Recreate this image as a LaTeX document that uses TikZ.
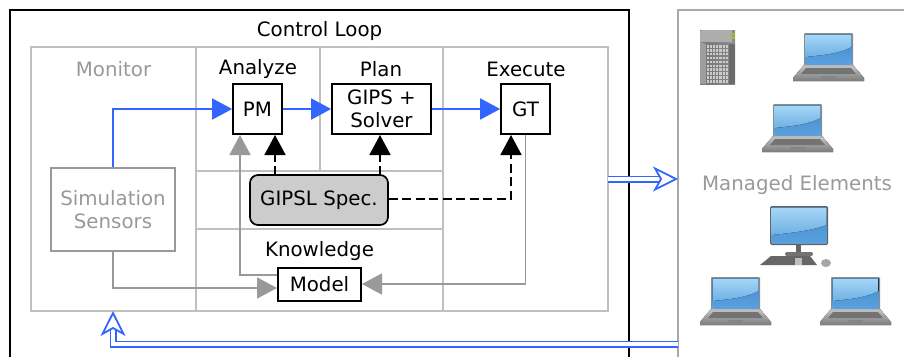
\documentclass[tikz,border=0pt]{standalone}
\usepackage{fontspec}
\setmainfont{DejaVu Sans}
\usetikzlibrary{arrows.meta,calc}
\definecolor{gridc}{HTML}{C0C0C0}
\definecolor{txtg}{HTML}{999999}
\definecolor{linkb}{HTML}{3366FF}
\definecolor{scrtop}{HTML}{A6D6F7}
\definecolor{scrmid}{HTML}{6FB0E4}
\definecolor{scrlow}{HTML}{3F8CD2}
\definecolor{scrbot}{HTML}{5AA0DC}
\tikzset{
  every node/.style={font=\fontsize{19.8}{23.5}\selectfont,align=center,inner sep=0pt},
  cell/.style={draw=gridc,line width=1.7pt},
  frame/.style={line width=1.8pt},
  box/.style={draw=black,fill=white,line width=1.7pt},
  graybox/.style={draw=txtg,fill=white,line width=1.7pt,text=txtg},
  specbox/.style={draw=black,fill=black!20,line width=1.7pt,rounded corners=8pt},
  title/.style={text=black},
  gtitle/.style={text=txtg},
  blink/.style={draw=linkb,line width=1.7pt,-{Triangle[length=20pt,width=21pt,fill=linkb]}},
  glink/.style={draw=txtg,line width=1.8pt,-{Triangle[length=20pt,width=21pt,fill=txtg]}},
  dlink/.style={draw=black,line width=1.7pt,dash pattern=on 9pt off 4.5pt,-{Triangle[length=20pt,width=21pt,fill=black,sep=0pt]}},
  dbl/.style={draw=linkb,line width=1.8pt,double=white,double distance=3.4pt,-{Stealth[length=25pt,width=25pt,inset=7pt,open,fill=white,line width=1.8pt]}},
  pics/laptop/.style={code={
    % base
    \fill[top color=black!22,bottom color=black!52] (0,48) -- (0,45) -- (11,32) -- (60,32) -- (71,45) -- (71,48) -- cycle;
    \fill[black!55] (8,41) -- (13,35) -- (58,35) -- (63,41) -- cycle;
    \fill[black!48] (28,42.5) rectangle (43,46.5);
    % lid
    \fill[black!45,rounded corners=1.2pt] (11,0) rectangle (60,33);
    \fill[black!28] (11.8,31) rectangle (59.2,33);
    \fill[bottom color=scrbot,top color=scrlow] (12.5,1.5) rectangle (58.5,31);
    \fill[top color=scrtop,bottom color=scrmid] (12.5,1.5) -- (58.5,1.5) -- (58.5,14) .. controls (45,21) and (30,22) .. (12.5,24) -- cycle;
  }},
  pics/desktop/.style={code={
    \fill[black!62,rounded corners=1.5pt] (10,0) rectangle (68,39);
    \fill[bottom color=scrbot,top color=scrlow] (11.5,1.5) rectangle (66.5,37);
    \fill[top color=scrtop,bottom color=scrmid] (11.5,1.5) -- (66.5,1.5) -- (66.5,19) .. controls (50,25) and (30,27) .. (11.5,29) -- cycle;
    \fill[black!60] (36,39) rectangle (41,47);
    \fill[black!55,rounded corners=2pt] (25,46) rectangle (53,50);
    \fill[black!60] (0,59) -- (11,50) -- (50,50) -- (57,59) -- cycle;
    \fill[black!25] (35,52) rectangle (42,59);
    \fill[black!35] (66,57) ellipse (5pt and 4pt);
  }},
  pics/server/.style={code={
    \fill[left color=black!55,right color=black!45] (0,0) rectangle (35,54);
    \fill[black!32] (0,1) -- (3,0) -- (32,0) -- (32,12) -- (0,12) -- cycle;
    \fill[black!38] (0,12) -- (6,14) -- (6,54) -- (0,54) -- cycle;
    \fill[black!58] (29,14) rectangle (35,54);
    \fill[yellow!70!green!80!black] (31,2.5) rectangle (35,5);
    \fill[yellow!70!green!80!black] (31,6) rectangle (35,8.5);
    \foreach \i in {0,...,9}{\foreach \j in {0,...,6}{
      \fill[black!20] ({6.5+\j*3.2},{15+\i*3.9}) rectangle ++(2.2,2.6);}}
  }}
}
\begin{document}
\begin{tikzpicture}[x=1pt,y=-1pt]
\useasboundingbox (0,0) rectangle (904,356);
\clip (0,0) rectangle (904,356);
% frames
\draw[frame,draw=black] (10,370) -- (10,10) -- (629,10) -- (629,370);
\draw[frame,draw=txtg!85!white] (678,370) -- (678,10) -- (920,10);
% grid
\draw[cell] (31,47) rectangle (608,311);
\draw[cell] (196,47) -- (196,311);
\draw[cell] (320,47) -- (320,171);
\draw[cell] (443,47) -- (443,311);
\draw[cell] (196,171) -- (443,171);
\draw[cell] (196,229) -- (443,229);
% titles
\node[title] (tcl) at (319.5,31) {Control Loop};
\node[gtitle] (tmon) at (113.5,69) {Monitor};
\node[title] (tana) at (258,69) {Analyze};
\node[title] (tpla) at (381,69) {Plan};
\node[title] (texe) at (526,69) {Execute};
\node[title] (tkno) at (319.5,251) {Knowledge};
\node[gtitle] (tman) at (797,185.5) {Managed Elements};
% boxes
\node[box,minimum width=49pt,minimum height=50pt] (pm) at (257.5,109) {PM};
\node[box,minimum width=99pt,minimum height=50pt] (gips) at (381.5,109) {GIPS +\\Solver};
\node[box,minimum width=49pt,minimum height=50pt] (gt) at (525.5,109) {GT};
\node[specbox,minimum width=138pt,minimum height=50pt] (spec) at (319,200) {GIPSL Spec.};
\node[graybox,minimum width=124pt,minimum height=83pt] (sim) at (113,209.5) {Simulation\\Sensors};
\node[box,minimum width=83pt,minimum height=33pt] (model) at (319.5,284.5) {Model};
% connectors
\draw[blink] (sim.north) |- (pm.west);
\draw[blink] (pm.east) -- (gips.west);
\draw[blink] (gips.east) -- (gt.west);
\draw[glink] (model.west |- 0,275) -| (240,135);
\draw[glink] (sim.south) |- (277,288);
\draw[glink] (gt.south) |- (362,284);
\draw[dlink] (275,175) -- (275,135);
\draw[dlink] (380,175) -- (380,135);
\draw[dlink] (spec.east |- 0,199) -| (511,135);
% managed elements
\pic at (793,33) {laptop};
\pic at (762,104) {laptop};
\pic at (700,277) {laptop};
\pic at (820,277) {laptop};
\pic at (760,206) {desktop};
\pic at (700,30) {server};
% feedback double arrows
\coordinate (mout) at (608,179);
\coordinate (min) at (678,179);
\coordinate (fbs) at (678,344);
\coordinate (fbe) at (113,311);
\draw[dbl] (mout) -- (min);
\draw[dbl] (fbs) -| (fbe);
\end{tikzpicture}
\end{document}
